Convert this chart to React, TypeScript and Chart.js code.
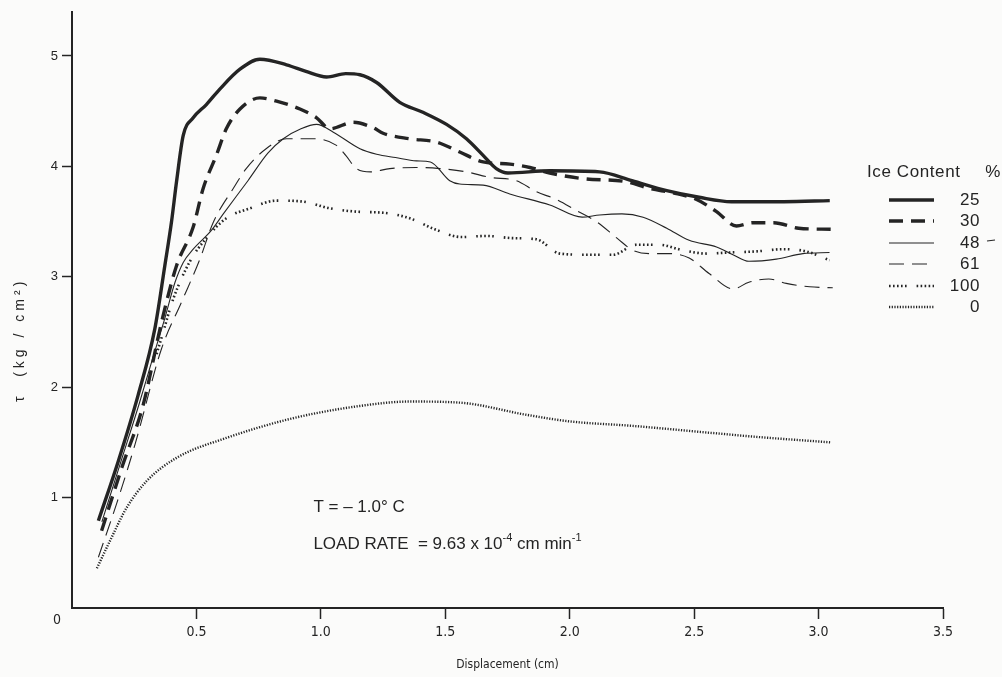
import React, { useEffect, useRef } from "react";
import { Chart, registerables } from "chart.js";

Chart.register(...registerables);

// ---------------- data ----------------
const xTickValues = [0.5, 1.0, 1.5, 2.0, 2.5, 3.0, 3.5];
const yTickValues = [1, 2, 3, 4, 5];
const iceContentLabels = ["25", "30", "48", "61", "100", "0"];

const ice25: [number, number][] = [
  [0.106, 0.79], [0.186, 1.33], [0.266, 1.93], [0.333, 2.53], [0.373, 3.1], [0.4, 3.5],
  [0.42, 3.86], [0.447, 4.28], [0.487, 4.44], [0.54, 4.56], [0.594, 4.7], [0.675, 4.88],
  [0.755, 4.97], [0.862, 4.92], [0.94, 4.86], [1.023, 4.81], [1.1, 4.84], [1.157, 4.83],
  [1.224, 4.76], [1.317, 4.58], [1.41, 4.49], [1.505, 4.38], [1.585, 4.25], [1.652, 4.1],
  [1.705, 3.98], [1.752, 3.94], [1.92, 3.96], [2.12, 3.95], [2.25, 3.87], [2.39, 3.78],
  [2.52, 3.72], [2.65, 3.68], [2.86, 3.68], [3.045, 3.69],
];

const ice30: [number, number][] = [
  [0.119, 0.7], [0.2, 1.27], [0.286, 1.84], [0.36, 2.59], [0.42, 3.1], [0.487, 3.45],
  [0.527, 3.8], [0.58, 4.1], [0.62, 4.34], [0.675, 4.52], [0.755, 4.62], [0.822, 4.59],
  [0.916, 4.52], [0.983, 4.44], [1.036, 4.34], [1.13, 4.4], [1.21, 4.35], [1.25, 4.3],
  [1.357, 4.25], [1.465, 4.22], [1.558, 4.13], [1.652, 4.04], [1.76, 4.02], [1.84, 3.99],
  [1.92, 3.94], [2.05, 3.89], [2.23, 3.86], [2.32, 3.8], [2.415, 3.76], [2.51, 3.7],
  [2.59, 3.59], [2.67, 3.46], [2.736, 3.49], [2.82, 3.49], [2.92, 3.44], [3.05, 3.43],
];

const ice48: [number, number][] = [
  [0.12, 0.78], [0.2, 1.35], [0.27, 1.85], [0.32, 2.23], [0.37, 2.6], [0.414, 2.95],
  [0.447, 3.13], [0.487, 3.25], [0.56, 3.42], [0.608, 3.57], [0.707, 3.87], [0.787, 4.12],
  [0.849, 4.25], [0.92, 4.34], [0.983, 4.38], [1.05, 4.31], [1.157, 4.16], [1.224, 4.11],
  [1.3, 4.08], [1.384, 4.05], [1.44, 4.04], [1.518, 3.87], [1.558, 3.84], [1.652, 3.83],
  [1.759, 3.75], [1.92, 3.65], [2.05, 3.54], [2.12, 3.56], [2.21, 3.57], [2.295, 3.54],
  [2.39, 3.44], [2.48, 3.33], [2.59, 3.27], [2.656, 3.2], [2.72, 3.14], [2.83, 3.16],
  [2.937, 3.21], [3.044, 3.22],
];

const ice61: [number, number][] = [
  [0.106, 0.46], [0.18, 0.95], [0.253, 1.48], [0.36, 2.35], [0.44, 2.77], [0.514, 3.16],
  [0.567, 3.49], [0.648, 3.8], [0.7, 3.98], [0.78, 4.16], [0.862, 4.25], [0.97, 4.25],
  [1.063, 4.19], [1.1, 4.1], [1.143, 3.98], [1.2, 3.95], [1.277, 3.98], [1.384, 3.99],
  [1.478, 3.98], [1.585, 3.95], [1.68, 3.9], [1.786, 3.87], [1.866, 3.77], [1.947, 3.7],
  [2.027, 3.6], [2.107, 3.5], [2.19, 3.35], [2.254, 3.24], [2.32, 3.21], [2.4, 3.21],
  [2.48, 3.17], [2.56, 3.03], [2.656, 2.89], [2.72, 2.95], [2.8, 2.98], [2.87, 2.94],
  [2.964, 2.91], [3.057, 2.9],
];

const ice100: [number, number][] = [
  [0.34, 2.3], [0.36, 2.45], [0.407, 2.8], [0.474, 3.14], [0.54, 3.35], [0.62, 3.53],
  [0.715, 3.62], [0.822, 3.69], [0.93, 3.68], [1.036, 3.62], [1.143, 3.59], [1.25, 3.58],
  [1.357, 3.53], [1.458, 3.43], [1.565, 3.36], [1.665, 3.37], [1.772, 3.35], [1.866, 3.34],
  [1.96, 3.21], [2.067, 3.2], [2.174, 3.2], [2.268, 3.29], [2.36, 3.29], [2.455, 3.24],
  [2.55, 3.21], [2.64, 3.22], [2.75, 3.23], [2.857, 3.25], [2.95, 3.23], [3.044, 3.15],
];

const ice0: [number, number][] = [
  [0.1, 0.36], [0.153, 0.61], [0.22, 0.91], [0.3, 1.15], [0.42, 1.36], [0.62, 1.54],
  [0.89, 1.72], [1.157, 1.83], [1.357, 1.87], [1.558, 1.86], [1.826, 1.75], [2.0, 1.69],
  [2.25, 1.65], [2.5, 1.6], [2.75, 1.55], [3.05, 1.5],
];

const seriesList = [ice25, ice30, ice48, ice61, ice100, ice0];

// ---------------- styling ----------------
const INK = "#242424";
const BG = "#fbfbfa";
const SANS = "'Liberation Sans', Arial, Helvetica, sans-serif";
const NARROW = "'Liberation Sans Narrow', 'DejaVu Sans Condensed', 'Liberation Sans', sans-serif";

const lineStyles: { width: number; dash: number[] }[] = [
  { width: 3.4, dash: [] },
  { width: 3.4, dash: [14, 8] },
  { width: 1.1, dash: [] },
  { width: 1.1, dash: [15, 8] },
  { width: 2.6, dash: [1.6, 2.4, 1.6, 2.4, 1.6, 2.4, 1.6, 2.4, 1.6, 10] },
  { width: 2.4, dash: [1.2, 1.5] },
];

const noteX = 0.97;
const noteTempY = 0.91;
const noteRateY = 0.58;

function drawRich(ctx: CanvasRenderingContext2D, parts: { t: string; sup?: boolean }[], x: number, y: number, size: number) {
  let cx = x;
  ctx.textAlign = "left";
  ctx.textBaseline = "middle";
  for (const p of parts) {
    ctx.font = `${p.sup ? Math.round(size * 0.62) : size}px ${SANS}`;
    ctx.fillText(p.t, cx, p.sup ? y - size * 0.36 : y);
    cx += ctx.measureText(p.t).width;
  }
}

const paperPlugin = {
  id: "paper",
  beforeDraw(chart: any) {
    const { ctx, width, height } = chart;
    ctx.save();
    ctx.fillStyle = BG;
    ctx.fillRect(0, 0, width, height);
    ctx.restore();
  },
  afterDraw(chart: any) {
    const ctx: CanvasRenderingContext2D = chart.ctx;
    const xs = chart.scales.x;
    const ys = chart.scales.y;
    const area = chart.chartArea;
    ctx.save();
    ctx.fillStyle = INK;
    ctx.strokeStyle = INK;

    // origin label
    ctx.font = `14px ${NARROW}`;
    ctx.textAlign = "center";
    ctx.textBaseline = "middle";
    ctx.fillText("0", xs.getPixelForValue(0) - 15, ys.getPixelForValue(0) + 12);

    // y-axis title (widely letter-spaced as in the original)
    ctx.save();
    ctx.translate(20, (area.top + area.bottom) / 2 + 30);
    ctx.rotate(-Math.PI / 2);
    (ctx as any).letterSpacing = "4px";
    ctx.font = `14px ${SANS}`;
    ctx.textAlign = "center";
    ctx.textBaseline = "middle";
    ctx.fillText("τ  (kg / cm²)", 0, 0);
    ctx.restore();

    // annotations
    const ax = xs.getPixelForValue(noteX);
    drawRich(ctx, [{ t: "T = – 1.0° C" }], ax, ys.getPixelForValue(noteTempY), 17);
    drawRich(
      ctx,
      [{ t: "LOAD RATE  = 9.63 x 10" }, { t: "-4", sup: true }, { t: " cm min" }, { t: "-1", sup: true }],
      ax,
      ys.getPixelForValue(noteRateY),
      17
    );

    // legend
    (ctx as any).letterSpacing = "0.6px";
    ctx.font = `17px ${SANS}`;
    ctx.textBaseline = "middle";
    ctx.textAlign = "left";
    ctx.fillText("Ice Content", 867, 172);
    ctx.textAlign = "center";
    ctx.fillText("%", 993, 172);
    const rowTop = 200;
    const rowGap = 21.4;
    chart.data.datasets.forEach((ds: any, i: number) => {
      const y = Math.round(rowTop + i * rowGap);
      ctx.save();
      ctx.lineWidth = ds.borderWidth;
      ctx.setLineDash(ds.borderDash || []);
      ctx.lineCap = "butt";
      ctx.beginPath();
      ctx.moveTo(889, y);
      ctx.lineTo(934, y);
      ctx.stroke();
      ctx.restore();
      ctx.textAlign = "right";
      ctx.fillText(ds.label, 980, y);
      if (ds.label === "48") {
        ctx.save();
        ctx.lineWidth = 1.2;
        ctx.beginPath();
        ctx.moveTo(987, y - 2);
        ctx.lineTo(995, y - 3);
        ctx.stroke();
        ctx.restore();
      }
    });
    ctx.restore();
  },
};

export default function App() {
  const ref = useRef<HTMLCanvasElement>(null);
  useEffect(() => {
    const prevMargin = document.body.style.margin;
    document.body.style.margin = "0";
    const chart = new Chart(ref.current as HTMLCanvasElement, {
      type: "line",
      data: {
        datasets: seriesList.map((pts, i) => ({
          label: iceContentLabels[i],
          data: pts.map(([x, y]) => ({ x, y })),
          borderColor: INK,
          borderWidth: lineStyles[i].width,
          borderDash: lineStyles[i].dash,
          borderCapStyle: "butt",
          borderJoinStyle: "round",
          pointRadius: 0,
          fill: false,
          cubicInterpolationMode: "monotone",
        })) as any,
      },
      options: {
        animation: false,
        responsive: false,
        devicePixelRatio: 1,
        events: [],
        layout: { padding: { left: 0, right: 59, top: 8, bottom: 0 } },
        plugins: { legend: { display: false }, tooltip: { enabled: false } },
        scales: {
          x: {
            type: "linear",
            min: 0,
            max: 3.5,
            afterBuildTicks: (s: any) => {
              s.ticks = xTickValues.map((v) => ({ value: v }));
            },
            afterFit: (s: any) => {
              s.height = 69;
            },
            ticks: {
              autoSkip: false,
              maxRotation: 0,
              padding: 5,
              color: INK,
              font: { family: NARROW, size: 14 },
              callback: (v: any) => Number(v).toFixed(1),
            },
            grid: { drawOnChartArea: false, drawTicks: true, tickLength: 11, tickColor: INK, tickWidth: 1.5 },
            border: { display: true, color: INK, width: 2 },
            title: {
              display: true,
              text: "Displacement (cm)",
              color: INK,
              font: { family: NARROW, size: 12 },
              padding: { top: 0, bottom: 5 },
            },
          },
          y: {
            type: "linear",
            min: 0,
            max: 5.4,
            afterBuildTicks: (s: any) => {
              s.ticks = yTickValues.map((v) => ({ value: v }));
            },
            afterFit: (s: any) => {
              s.width = 72;
            },
            ticks: {
              padding: 4,
              color: INK,
              font: { family: SANS, size: 13 },
              callback: (v: any) => String(v),
            },
            grid: { drawOnChartArea: false, drawTicks: true, tickLength: 10, tickColor: INK, tickWidth: 1.5 },
            border: { display: true, color: INK, width: 2 },
            title: { display: false },
          },
        },
      } as any,
      plugins: [paperPlugin],
    });
    return () => {
      chart.destroy();
      document.body.style.margin = prevMargin;
    };
  }, []);
  return (
    <div style={{ position: "relative", width: 1002, height: 677, background: BG }}>
      <canvas ref={ref} width={1002} height={677} style={{ display: "block" }} />
    </div>
  );
}
